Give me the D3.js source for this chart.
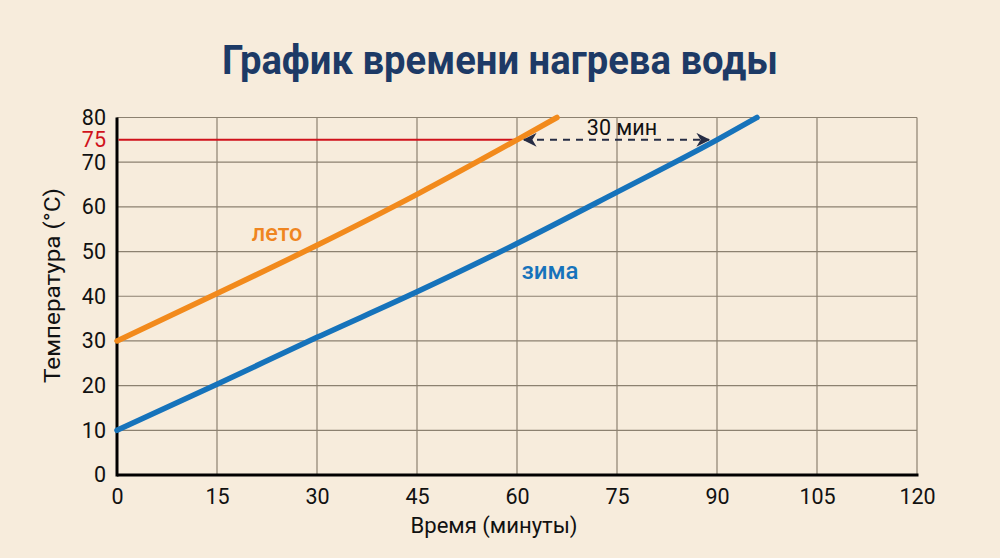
<!DOCTYPE html>
<html><head><meta charset="utf-8">
<script src="https://cdn.jsdelivr.net/npm/d3@7"></script>
<style>
html,body{margin:0;padding:0;background:#f7ecdc;}
svg{display:block;font-family:Roboto,"Noto Sans",sans-serif;}
</style></head>
<body>
<svg id="chart" width="1000" height="558"></svg>
<script>
const title = "График времени нагрева воды";
const xTicks = [0, 15, 30, 45, 60, 75, 90, 105, 120];
const yTicks = [0, 10, 20, 30, 40, 50, 60, 70, 80];
const summerTime = [0, 15, 30, 45, 60, 66];
const summerTemp = [30, 40.6, 51.4, 62.8, 75, 80];
const winterTime = [0, 15, 30, 45, 60, 75, 90, 96];
const winterTemp = [10, 20.3, 30.8, 41, 51.8, 63.3, 75, 80];
const targetTemp = 75;
const summerTarget = 60, winterTarget = 90;

const svg = d3.select("#chart");
const W = 1000, H = 558;
const m = {left:117, right:83, top:117.5, bottom:83};
const x = d3.scaleLinear().domain([0,120]).range([m.left, W - m.right]);
const y = d3.scaleLinear().domain([0,80]).range([H - m.bottom, m.top]);

svg.append("rect").attr("width",W).attr("height",H).attr("fill","#f7ecdc");

// title
svg.append("text").attr("x",500).attr("y",73.5).attr("text-anchor","middle")
  .attr("font-size",40).attr("font-weight",700).attr("fill","#1d3a66")
  .attr("textLength",556).attr("lengthAdjust","spacingAndGlyphs").text(title);

// grid
const grid = svg.append("g").attr("stroke","#8c8170").attr("stroke-width",1.2);
xTicks.forEach(t => grid.append("line").attr("x1",x(t)).attr("x2",x(t)).attr("y1",y(0)).attr("y2",y(80)));
yTicks.forEach(t => grid.append("line").attr("x1",x(0)).attr("x2",x(120)).attr("y1",y(t)).attr("y2",y(t)));

// axes
const xAxis = svg.append("g").attr("transform",`translate(0,${y(0)})`)
  .call(d3.axisBottom(x).tickValues(xTicks).tickSize(0).tickPadding(9));
const yAxis = svg.append("g").attr("transform",`translate(${x(0)},0)`)
  .call(d3.axisLeft(y).tickValues(yTicks).tickSize(0).tickPadding(11));
[xAxis,yAxis].forEach(a => {
  a.select(".domain").remove();
  a.selectAll("text").attr("font-size",21.5).attr("fill","#111").attr("font-family","Roboto");
});
xAxis.selectAll("text").attr("dy","0.95em");
// red 75 label
svg.append("text").attr("x",x(0)-11).attr("y",y(targetTemp)).attr("dy","0.35em")
  .attr("text-anchor","end").attr("font-size",21.5).attr("fill","#d0121b").text(targetTemp);

svg.append("line").attr("x1",x(0)).attr("x2",x(120)+1.5).attr("y1",y(0)).attr("y2",y(0))
  .attr("stroke","#000").attr("stroke-width",3);
svg.append("line").attr("x1",x(0)).attr("x2",x(0)).attr("y1",y(80)).attr("y2",y(0)+1.5)
  .attr("stroke","#000").attr("stroke-width",3);

// red line at 75
svg.append("line").attr("x1",x(0)+1.5).attr("x2",x(summerTarget)).attr("y1",y(targetTemp)).attr("y2",y(targetTemp))
  .attr("stroke","#d0121b").attr("stroke-width",2);

// series lines
const line = d3.line().x(d=>x(d[0])).y(d=>y(d[1])).curve(d3.curveMonotoneX);
svg.append("path").datum(summerTime.map((t,i)=>[t,summerTemp[i]]))
  .attr("d",line).attr("fill","none").attr("stroke","#f28a1c").attr("stroke-width",5.5).attr("stroke-linecap","round");
svg.append("path").datum(winterTime.map((t,i)=>[t,winterTemp[i]]))
  .attr("d",line).attr("fill","none").attr("stroke","#1673bb").attr("stroke-width",5.5).attr("stroke-linecap","round");

// series labels
svg.append("text").attr("x",277).attr("y",241).attr("text-anchor","middle").attr("font-size",23.5)
  .attr("font-weight",500).attr("fill","#ef8521").text("лето");
svg.append("text").attr("x",550).attr("y",279).attr("text-anchor","middle").attr("font-size",24)
  .attr("font-weight",500).attr("fill","#1673bb").text("зима");

// arrow annotation
const defs = svg.append("defs");
defs.append("marker").attr("id","ah").attr("viewBox","0 0 10 10").attr("refX",9).attr("refY",5)
  .attr("markerWidth",14).attr("markerHeight",14).attr("markerUnits","userSpaceOnUse").attr("orient","auto-start-reverse")
  .append("path").attr("d","M0,0 L10,5 L0,10 L3,5 Z").attr("fill","#262c44");
svg.append("line").attr("x1",x(summerTarget)+7).attr("x2",x(winterTarget)-8)
  .attr("y1",y(targetTemp)).attr("y2",y(targetTemp))
  .attr("stroke","#262c44").attr("stroke-width",2).attr("stroke-dasharray","7,6")
  .attr("marker-start","url(#ah)").attr("marker-end","url(#ah)");
svg.append("text").attr("x",622).attr("y",135).attr("text-anchor","middle").attr("font-size",21.5)
  .attr("fill","#111").text(`${winterTarget-summerTarget} мин`);

// axis titles
svg.append("text").attr("x",494).attr("y",533).attr("text-anchor","middle").attr("font-size",22)
  .attr("textLength",167).attr("lengthAdjust","spacingAndGlyphs")
  .attr("fill","#111").text("Время (минуты)");
svg.append("text").attr("transform","translate(60,285.5) rotate(-90)").attr("text-anchor","middle")
  .attr("font-size",22).attr("textLength",195).attr("lengthAdjust","spacingAndGlyphs")
  .attr("fill","#111").text("Температура (°C)");
</script>
</body></html>
